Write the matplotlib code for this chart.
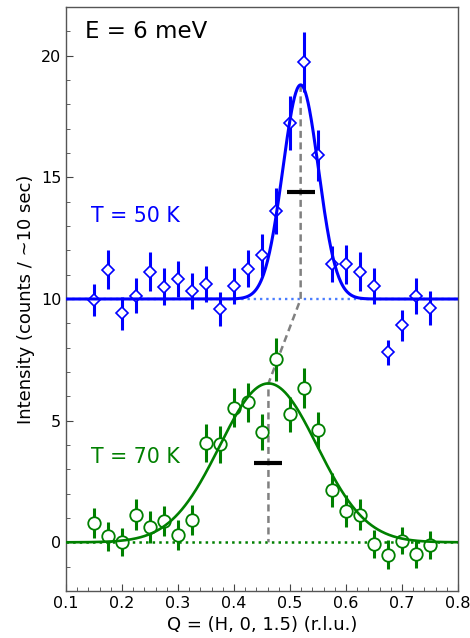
import numpy as np
import matplotlib
matplotlib.use("Agg")
import matplotlib.pyplot as plt
from matplotlib.ticker import MultipleLocator

# scan positions (r.l.u.)
q = [0.15, 0.175, 0.2, 0.225, 0.25, 0.275, 0.3, 0.325, 0.35, 0.375, 0.4, 0.425,
     0.45, 0.475, 0.5, 0.525, 0.55, 0.575, 0.6, 0.625, 0.65, 0.675, 0.7, 0.725, 0.75]

# T = 50 K (offset by +10)
i50 = [9.96, 11.2, 9.41, 10.14, 11.12, 10.51, 10.84, 10.32, 10.62, 9.6, 10.53, 11.25,
       11.81, 13.62, 17.23, 19.74, 15.91, 11.44, 11.43, 11.12, 10.53, 7.81, 8.92, 10.12, 9.62]
e50 = [0.66, 0.8, 0.69, 0.71, 0.8, 0.75, 0.74, 0.74, 0.75, 0.7, 0.74, 0.77,
       0.85, 0.93, 1.1, 1.22, 1.04, 0.74, 0.8, 0.8, 0.73, 0.52, 0.63, 0.73, 0.69]

# T = 70 K
i70 = [0.8, 0.25, 0.0, 1.14, 0.63, 0.88, 0.3, 0.91, 4.09, 4.03, 5.54, 5.75,
       4.54, 7.53, 5.26, 6.35, 4.61, 2.14, 1.29, 1.14, -0.07, -0.51, 0.07, -0.47, -0.11]
e70 = [0.63, 0.59, 0.58, 0.63, 0.66, 0.6, 0.6, 0.62, 0.77, 0.75, 0.8, 0.81,
       0.75, 0.88, 0.72, 0.81, 0.75, 0.69, 0.64, 0.63, 0.59, 0.59, 0.56, 0.58, 0.58]

# gaussian fit parameters: baseline, amplitude, centre, fwhm
fit50 = [10.0, 8.8, 0.519, 0.075]
fit70 = [0.0, 6.53, 0.4615, 0.205]
res_width = 0.05  # resolution bar


def gauss(x, base, amp, x0, fwhm):
    sig = fwhm / 2.3548
    return base + amp * np.exp(-0.5 * ((x - x0) / sig) ** 2)


fig = plt.figure(figsize=(4.70, 6.38), dpi=100)
ax = fig.add_axes([0.1404, 0.0737, 0.8341, 0.9153])

xx = np.linspace(0.1, 0.8, 600)

# baselines
ax.plot([0.1, 0.8], [fit50[0]] * 2, ls=":", color="#4a7dff", lw=1.7, zorder=1)
ax.plot([0.1, 0.8], [fit70[0]] * 2, ls=":", color="green", lw=1.8, zorder=1)

# fits
ax.plot(xx, gauss(xx, *fit50), color="blue", lw=2.2, zorder=6)
ax.plot(xx, gauss(xx, *fit70), color="green", lw=1.9, zorder=6)

# peak shift guide
top50 = fit50[0] + fit50[1]
top70 = fit70[0] + fit70[1]
ax.plot([fit50[2], fit50[2], fit70[2], fit70[2]],
        [top50, fit50[0], top70, fit70[0]],
        ls="--", color="gray", lw=1.8, dashes=(2.8, 1.8), zorder=2)

# resolution bars at half maximum
for base, amp, x0 in [(fit50[0], fit50[1], fit50[2]), (fit70[0], fit70[1], fit70[2])]:
    ax.plot([x0 - res_width / 2, x0 + res_width / 2], [base + amp / 2] * 2,
            color="black", lw=3, solid_capstyle="butt", zorder=4)

# data
ax.errorbar(q, i50, yerr=e50, fmt="D", ms=6, mfc="white", mec="blue", mew=1.2,
            ecolor="blue", elinewidth=2.2, capsize=0, zorder=5)
ax.errorbar(q, i70, yerr=e70, fmt="o", ms=9, mfc="white", mec="green", mew=1.3,
            ecolor="green", elinewidth=2.2, capsize=0, zorder=5)

ax.text(0.134, 21.0, "E = 6 meV", fontsize=16.5, va="center", ha="left")
ax.text(0.144, 13.43, "T = 50 K", fontsize=14.8, color="blue", va="center", ha="left")
ax.text(0.145, 3.52, "T = 70 K", fontsize=14.8, color="green", va="center", ha="left")

ax.set_xlim(0.1, 0.8)
ax.set_ylim(-2, 22)
ax.xaxis.set_major_locator(MultipleLocator(0.1))
ax.xaxis.set_minor_locator(MultipleLocator(0.02))
ax.yaxis.set_major_locator(MultipleLocator(5))
ax.yaxis.set_minor_locator(MultipleLocator(1))
ax.tick_params(which="both", direction="in", top=False, right=False, labelsize=11.5)
ax.tick_params(which="major", length=5, width=0.8, color="#444444")
ax.tick_params(which="minor", length=3, width=0.6, color="#444444")
for sp in ax.spines.values():
    sp.set_color("#555555")
    sp.set_linewidth(1.0)

ax.set_xlabel("Q = (H, 0, 1.5) (r.l.u.)", fontsize=13)
ax.set_ylabel("Intensity (counts / ~10 sec)", fontsize=13)

fig.savefig("out.png", dpi=100)
